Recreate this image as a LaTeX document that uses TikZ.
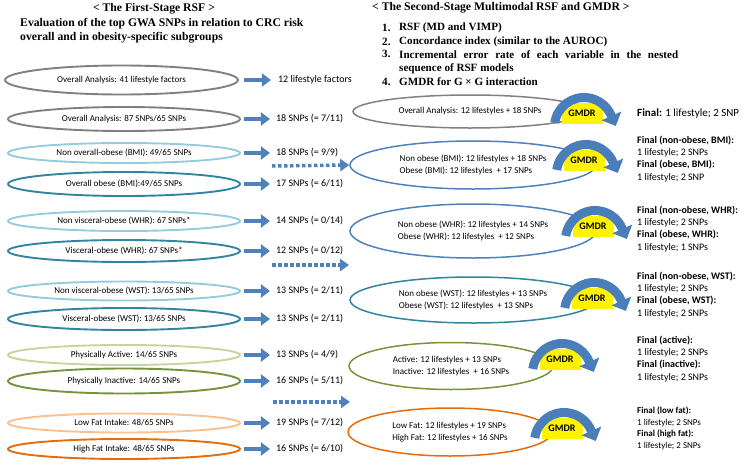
\documentclass[tikz,border=0pt]{standalone}
\usepackage{fontspec}
\setmainfont{Liberation Serif}
\setsansfont{Carlito}
\usepackage{tikz}
\usetikzlibrary{shapes.geometric, arrows.meta, positioning}

\definecolor{ovgray}{HTML}{808080}
\definecolor{lightteal}{HTML}{93CDDD}
\definecolor{darkteal}{HTML}{31859C}
\definecolor{obblue}{HTML}{4F81BD}
\definecolor{lightgreen}{HTML}{C3D69B}
\definecolor{olive}{HTML}{77933C}
\definecolor{lightorange}{HTML}{FAC090}
\definecolor{fatorange}{HTML}{E46C0A}
\definecolor{arcblue}{HTML}{4A7EBB}

\begin{document}
\begin{tikzpicture}[
    x=1pt, y=1pt,
    heading/.style={inner sep=0pt, font=\fontsize{11.7}{14}\selectfont\bfseries},
    listitem/.style={inner sep=0pt, anchor=west, font=\fontsize{11.1}{13.6}\selectfont\bfseries},
    leftell/.style={ellipse, line width=1.9pt, minimum width=232pt, inner sep=0pt, font=\fontsize{9}{11}\sffamily},
    rightell/.style={ellipse, line width=1.5pt, inner sep=0pt, align=left, font=\fontsize{9}{11.5}\sffamily},
    snp/.style={inner sep=1pt, font=\fontsize{10}{12}\sffamily},
    final/.style={inner sep=0pt, anchor=north west, align=left, font=\fontsize{10}{12.3}\sffamily},
    gmdr/.style={fill=yellow, minimum width=41pt, minimum height=21pt, inner sep=0pt, font=\fontsize{10}{12}\sffamily\bfseries},
    gmdrarc/.style={draw=arcblue, line width=9pt, -{Triangle[length=11pt, width=21pt]}},
    arrow/.style={-{Triangle[length=9pt, width=13pt]}, line width=4.5pt, draw=obblue},
    darrow/.style={-{Triangle[length=9pt, width=12pt]}, line width=3.5pt, draw=obblue, dash pattern=on 3.5pt off 2.5pt}
]
\useasboundingbox (0,0) rectangle (750,-466);

% Headings
\node[heading] (first_title) at (154,-9) {< The First-Stage RSF >};
\node[heading, anchor=west, align=left] (first_sub) at (20,-31) {Evaluation of the top GWA SNPs in relation to CRC risk\\overall and in obesity-specific subgroups};
\node[heading, anchor=west] (second_title) at (372,-8) {< The Second-Stage Multimodal RSF and GMDR >};

\node[listitem] (item_n1) at (382,-28) {1.};
\node[listitem] (item_1) at (399,-28) {RSF (MD and VIMP)};
\node[listitem] (item_n2) at (382,-42) {2.};
\node[listitem] (item_2) at (399,-42) {Concordance index (similar to the AUROC)};
\node[listitem] (item_n3) at (382,-54) {3.};
\node[listitem, align=left, anchor=north west] (item_3) at (399,-50) {\makebox[279pt][s]{Incremental error rate of each variable in the nested}\\sequence of RSF models};
\node[listitem] (item_n4) at (382,-82) {4.};
\node[listitem] (item_4) at (399,-82) {GMDR for G × G interaction};

% First-stage RSF (left)
\node[leftell, draw=ovgray, minimum width=233pt, minimum height=29pt] (life_all) at (121.5,-80) {Overall Analysis: 41 lifestyle factors};
\node[leftell, draw=ovgray, minimum height=24pt] (snp_all) at (124,-119) {Overall Analysis: 87 SNPs/65 SNPs};
\node[leftell, draw=lightteal, minimum height=20pt] (bmi_non) at (124,-153) {Non overall-obese (BMI): 49/65 SNPs};
\node[leftell, draw=darkteal, minimum height=24pt] (bmi_ob) at (124,-184) {Overall obese (BMI):49/65 SNPs};
\node[leftell, draw=lightteal, minimum height=20pt] (whr_non) at (124,-221) {Non visceral-obese (WHR): 67 SNPs*};
\node[leftell, draw=darkteal, minimum height=22pt] (whr_ob) at (124,-251) {Visceral-obese (WHR): 67 SNPs*};
\node[leftell, draw=lightteal, minimum height=19pt] (wst_non) at (124,-291) {Non visceral-obese (WST): 13/65 SNPs};
\node[leftell, draw=darkteal, minimum height=22pt] (wst_ob) at (124,-319) {Visceral-obese (WST): 13/65 SNPs};
\node[leftell, draw=lightgreen, minimum height=20pt] (pa_act) at (124,-355) {Physically Active: 14/65 SNPs};
\node[leftell, draw=olive, minimum height=25pt] (pa_inact) at (124,-381) {Physically Inactive: 14/65 SNPs};
\node[leftell, draw=lightorange, minimum height=19pt] (fat_low) at (124,-423) {Low Fat Intake: 48/65 SNPs};
\node[leftell, draw=fatorange, minimum height=20pt] (fat_high) at (124,-449) {High Fat Intake: 48/65 SNPs};

% Selected after RSF
\node[snp, right=38pt of life_all] (life_sel) {12 lifestyle factors};
\node[snp, right=34pt of snp_all] (snp_sel) {18 SNPs (= 7/11)};
\node[snp, right=34pt of bmi_non] (bmi_non_sel) {18 SNPs (= 9/9)};
\node[snp, right=34pt of bmi_ob] (bmi_ob_sel) {17 SNPs (= 6/11)};
\node[snp, right=34pt of whr_non] (whr_non_sel) {14 SNPs (= 0/14)};
\node[snp, right=34pt of whr_ob] (whr_ob_sel) {12 SNPs (= 0/12)};
\node[snp, right=34pt of wst_non] (wst_non_sel) {13 SNPs (= 2/11)};
\node[snp, right=34pt of wst_ob] (wst_ob_sel) {13 SNPs (= 2/11)};
\node[snp, right=34pt of pa_act] (pa_act_sel) {13 SNPs (= 4/9)};
\node[snp, right=34pt of pa_inact] (pa_inact_sel) {16 SNPs (= 5/11)};
\node[snp, right=34pt of fat_low] (fat_low_sel) {19 SNPs (= 7/12)};
\node[snp, right=34pt of fat_high] (fat_high_sel) {16 SNPs (= 6/10)};

\draw[arrow] ([xshift=5pt]life_all.east) -- ([xshift=-6pt]life_sel.west);
\draw[arrow] ([xshift=3pt]snp_all.east) -- ([xshift=-5pt]snp_sel.west);
\draw[arrow] ([xshift=3pt]bmi_non.east) -- ([xshift=-5pt]bmi_non_sel.west);
\draw[arrow] ([xshift=3pt]bmi_ob.east) -- ([xshift=-5pt]bmi_ob_sel.west);
\draw[arrow] ([xshift=3pt]whr_non.east) -- ([xshift=-5pt]whr_non_sel.west);
\draw[arrow] ([xshift=3pt]whr_ob.east) -- ([xshift=-5pt]whr_ob_sel.west);
\draw[arrow] ([xshift=3pt]wst_non.east) -- ([xshift=-5pt]wst_non_sel.west);
\draw[arrow] ([xshift=3pt]wst_ob.east) -- ([xshift=-5pt]wst_ob_sel.west);
\draw[arrow] ([xshift=3pt]pa_act.east) -- ([xshift=-5pt]pa_act_sel.west);
\draw[arrow] ([xshift=3pt]pa_inact.east) -- ([xshift=-5pt]pa_inact_sel.west);
\draw[arrow] ([xshift=3pt]fat_low.east) -- ([xshift=-5pt]fat_low_sel.west);
\draw[arrow] ([xshift=3pt]fat_high.east) -- ([xshift=-5pt]fat_high_sel.west);

% Second-stage multimodal RSF (right)
\node[rightell, draw=ovgray, minimum width=234pt, minimum height=33pt] (gm_all) at (470,-111.5) {Overall Analysis: 12 lifestyles + 18 SNPs};
\node[rightell, draw=obblue, minimum width=246pt, minimum height=48pt] (gm_bmi) at (473,-165) {Non obese (BMI): 12 lifestyles + 18 SNPs\\Obese (BMI): 12 lifestyles \ + 17 SNPs};
\node[rightell, draw=obblue, minimum width=246pt, minimum height=54pt] (gm_whr) at (473,-231) {Non obese (WHR): 12 lifestyles + 14 SNPs\\Obese (WHR): 12 lifestyles \ + 12 SNPs};
\node[rightell, draw=darkteal, minimum width=246pt, minimum height=46pt] (gm_wst) at (473,-300) {Non obese (WST): 12 lifestyles + 13 SNPs\\Obese (WST): 12 lifestyles \ + 13 SNPs};
\node[rightell, draw=olive, minimum width=204pt, minimum height=47pt] (gm_pa) at (451,-366) {Active: 12 lifestyles + 13 SNPs\\Inactive: 12 lifestyles \ + 16 SNPs};
\node[rightell, draw=fatorange, minimum width=204pt, minimum height=48pt] (gm_fat) at (450,-432) {Low Fat: 12 lifestyles + 19 SNPs\\High Fat: 12 lifestyles + 16 SNPs};

% Dotted hand-over arrows
\coordinate (bmi_dots) at (272,-166);
\coordinate (whr_dots) at (272,-265);
\coordinate (whr_dots_end) at (349,-265);
\coordinate (pa_dots) at (273,-402);
\coordinate (pa_dots_end) at (350,-402);
\draw[darrow] (bmi_dots) -- (gm_bmi.west);
\draw[darrow] (whr_dots) -- (whr_dots_end);
\draw[darrow] (pa_dots) -- (pa_dots_end);

% GMDR arcs
\node[gmdr] (gmdr_all) at (582,-113) {GMDR};
\node[gmdr] (gmdr_bmi) at (584,-160) {GMDR};
\node[gmdr] (gmdr_whr) at (593,-226) {GMDR};
\node[gmdr] (gmdr_wst) at (592,-298) {GMDR};
\node[gmdr] (gmdr_pa) at (560,-359) {GMDR};
\node[gmdr] (gmdr_fat) at (562,-428) {GMDR};
\draw[gmdrarc] ([shift={(2,-14)}]gmdr_all.center) ++(172:29.5) arc[start angle=172, end angle=24, radius=29.5] -- ++(-66:12);
\draw[gmdrarc] ([shift={(2,-14)}]gmdr_bmi.center) ++(172:29.5) arc[start angle=172, end angle=24, radius=29.5] -- ++(-66:12);
\draw[gmdrarc] ([shift={(2,-14)}]gmdr_whr.center) ++(172:29.5) arc[start angle=172, end angle=24, radius=29.5] -- ++(-66:12);
\draw[gmdrarc] ([shift={(2,-14)}]gmdr_wst.center) ++(172:29.5) arc[start angle=172, end angle=24, radius=29.5] -- ++(-66:12);
\draw[gmdrarc] ([shift={(2,-14)}]gmdr_pa.center) ++(172:29.5) arc[start angle=172, end angle=24, radius=29.5] -- ++(-66:12);
\draw[gmdrarc] ([shift={(2,-14)}]gmdr_fat.center) ++(172:29.5) arc[start angle=172, end angle=24, radius=29.5] -- ++(-66:12);

% Final models
\node[final, anchor=west, font=\fontsize{11}{13}\sffamily] (fin_all) at (637,-114) {\textbf{Final:} 1 lifestyle; 2 SNP};
\node[final] (fin_bmi) at (637,-135.5) {\textbf{Final (non-obese, BMI):}\\1 lifestyle; 2 SNPs\\\textbf{Final (obese, BMI):}\\1 lifestyle; 2 SNP};
\node[final] (fin_whr) at (637,-205.5) {\textbf{Final (non-obese, WHR):}\\1 lifestyle; 2 SNPs\\\textbf{Final (obese, WHR):}\\1 lifestyle; 1 SNPs};
\node[final] (fin_wst) at (637,-271.5) {\textbf{Final (non-obese, WST):}\\1 lifestyle; 2 SNPs\\\textbf{Final (obese, WST):}\\1 lifestyle; 2 SNPs};
\node[final] (fin_pa) at (637,-335.5) {\textbf{Final (active):}\\1 lifestyle; 2 SNPs\\\textbf{Final (inactive):}\\1 lifestyle; 2 SNPs};
\node[final, font=\fontsize{9}{11.7}\sffamily] (fin_fat) at (637,-406.5) {\textbf{Final (low fat):}\\1 lifestyle; 2 SNPs\\\textbf{Final (high fat):}\\1 lifestyle; 2 SNPs};

\end{tikzpicture}
\end{document}
